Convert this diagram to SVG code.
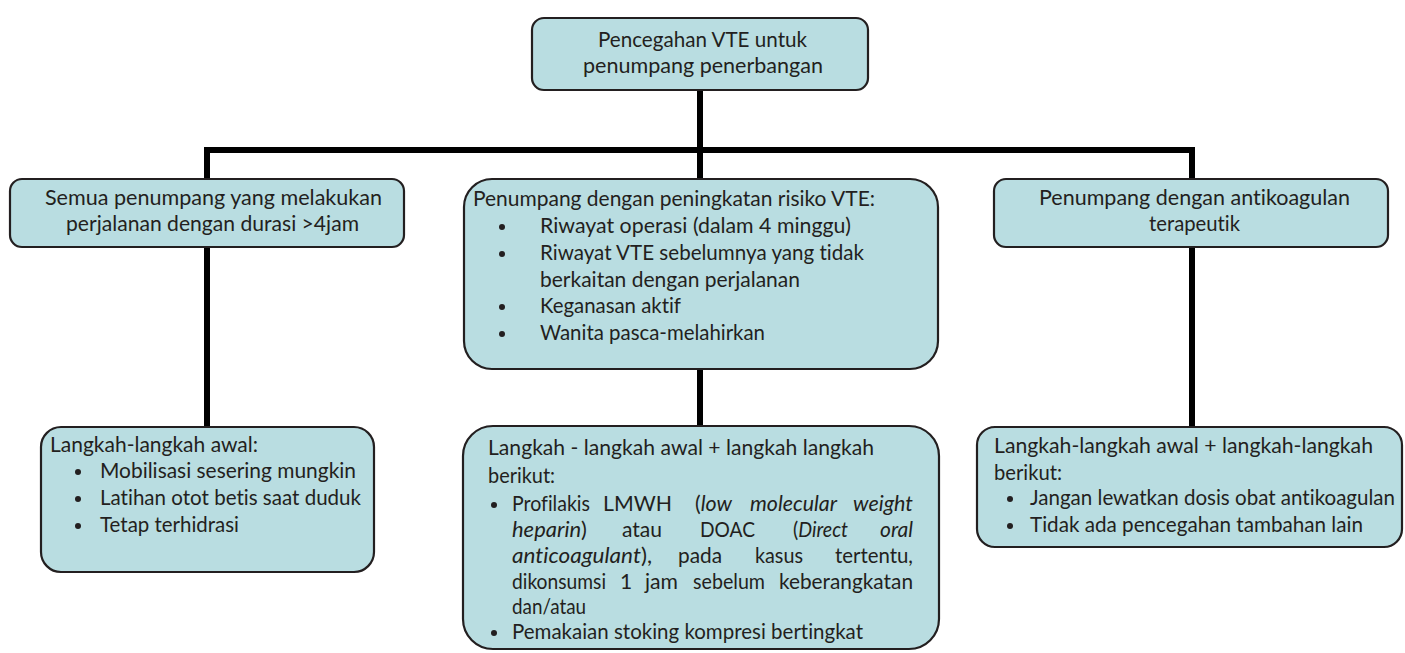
<svg xmlns="http://www.w3.org/2000/svg" width="1405" height="653" viewBox="0 0 1405 653">
<style>
.box{fill:#b9dde1;stroke:#231f20;stroke-width:2.2}
.t{font-family:Lato,"Open Sans","Liberation Sans",sans-serif;font-size:21px;fill:#231f20;font-variant-ligatures:none}
.i{font-style:italic}
.b{fill:#231f20}
.conn{fill:none;stroke:#000;stroke-width:6;stroke-linejoin:miter;stroke-linecap:butt}
</style>
<rect width="1405" height="653" fill="#ffffff"/>
<g id="connectors">
<path class="conn" d="M700 90 V179 M700 369 V426 M207 426 V150 H1192 V426"/>
</g>
<g id="root">
<rect class="box" x="532" y="18" width="336" height="72" rx="12"/>
<text class="t" x="598" y="47" textLength="209" lengthAdjust="spacingAndGlyphs">Pencegahan VTE untuk</text>
<text class="t" x="583" y="73" textLength="240" lengthAdjust="spacingAndGlyphs">penumpang penerbangan</text>
</g>
<g id="all-passengers">
<rect class="box" x="10" y="179" width="394" height="68" rx="12"/>
<text class="t" x="45" y="205" textLength="337" lengthAdjust="spacingAndGlyphs">Semua penumpang yang melakukan</text>
<text class="t" x="66" y="231" textLength="293" lengthAdjust="spacingAndGlyphs">perjalanan dengan durasi &gt;4jam</text>
</g>
<g id="increased-risk">
<rect class="box" x="464" y="179" width="474" height="190" rx="28"/>
<text class="t" x="473" y="206" textLength="402" lengthAdjust="spacingAndGlyphs">Penumpang dengan peningkatan risiko VTE:</text>
<circle class="b" cx="502" cy="227" r="3"/>
<circle class="b" cx="502" cy="254" r="3"/>
<circle class="b" cx="502" cy="307" r="3"/>
<circle class="b" cx="502" cy="334" r="3"/>
<text class="t" x="540" y="233" textLength="311" lengthAdjust="spacingAndGlyphs">Riwayat operasi (dalam 4 minggu)</text>
<text class="t" x="540" y="260" textLength="324" lengthAdjust="spacingAndGlyphs">Riwayat VTE sebelumnya yang tidak</text>
<text class="t" x="540" y="287" textLength="260" lengthAdjust="spacingAndGlyphs">berkaitan dengan perjalanan</text>
<text class="t" x="540" y="313" textLength="141" lengthAdjust="spacingAndGlyphs">Keganasan aktif</text>
<text class="t" x="540" y="340" textLength="225" lengthAdjust="spacingAndGlyphs">Wanita pasca-melahirkan</text>
</g>
<g id="anticoagulant">
<rect class="box" x="994" y="179" width="394" height="68" rx="12"/>
<text class="t" x="1039" y="205" textLength="311" lengthAdjust="spacingAndGlyphs">Penumpang dengan antikoagulan</text>
<text class="t" x="1149" y="231" textLength="91" lengthAdjust="spacingAndGlyphs">terapeutik</text>
</g>
<g id="initial-steps">
<rect class="box" x="41" y="427" width="333" height="145" rx="20"/>
<text class="t" x="50" y="452" textLength="208" lengthAdjust="spacingAndGlyphs">Langkah-langkah awal:</text>
<circle class="b" cx="78" cy="472" r="3"/>
<circle class="b" cx="78" cy="499" r="3"/>
<circle class="b" cx="78" cy="526" r="3"/>
<text class="t" x="100" y="478" textLength="256" lengthAdjust="spacingAndGlyphs">Mobilisasi sesering mungkin</text>
<text class="t" x="100" y="505" textLength="261" lengthAdjust="spacingAndGlyphs">Latihan otot betis saat duduk</text>
<text class="t" x="100" y="532" textLength="139" lengthAdjust="spacingAndGlyphs">Tetap terhidrasi</text>
</g>
<g id="risk-steps">
<rect class="box" x="463" y="426" width="476" height="223" rx="30"/>
<text class="t" x="488" y="455" textLength="386" lengthAdjust="spacingAndGlyphs">Langkah - langkah awal + langkah langkah</text>
<text class="t" x="488" y="483" textLength="67" lengthAdjust="spacingAndGlyphs">berikut:</text>
<circle class="b" cx="494" cy="505" r="3"/>
<circle class="b" cx="494" cy="633" r="3"/>
<text class="t" x="512" y="511" textLength="78" lengthAdjust="spacingAndGlyphs">Profilakis</text>
<text class="t" x="603" y="511" textLength="69" lengthAdjust="spacingAndGlyphs">LMWH</text>
<text class="t" x="695" y="511" textLength="37" lengthAdjust="spacingAndGlyphs">(<tspan class="i">low</tspan></text>
<text class="t i" x="750" y="511" textLength="87" lengthAdjust="spacingAndGlyphs">molecular</text>
<text class="t i" x="853" y="511" textLength="60" lengthAdjust="spacingAndGlyphs">weight</text>
<text class="t" x="512" y="537" textLength="75" lengthAdjust="spacingAndGlyphs"><tspan class="i">heparin</tspan>)</text>
<text class="t" x="622" y="537" textLength="40" lengthAdjust="spacingAndGlyphs">atau</text>
<text class="t" x="700" y="537" textLength="55" lengthAdjust="spacingAndGlyphs">DOAC</text>
<text class="t" x="793" y="537" textLength="55" lengthAdjust="spacingAndGlyphs">(<tspan class="i">Direct</tspan></text>
<text class="t i" x="880" y="537" textLength="33" lengthAdjust="spacingAndGlyphs">oral</text>
<text class="t" x="512" y="563" textLength="140" lengthAdjust="spacingAndGlyphs"><tspan class="i">anticoagulant</tspan>),</text>
<text class="t" x="678" y="563" textLength="44" lengthAdjust="spacingAndGlyphs">pada</text>
<text class="t" x="755" y="563" textLength="48" lengthAdjust="spacingAndGlyphs">kasus</text>
<text class="t" x="835" y="563" textLength="78" lengthAdjust="spacingAndGlyphs">tertentu,</text>
<text class="t" x="512" y="589" textLength="94" lengthAdjust="spacingAndGlyphs">dikonsumsi</text>
<text class="t" x="620" y="589">1</text>
<text class="t" x="645" y="589" textLength="33" lengthAdjust="spacingAndGlyphs">jam</text>
<text class="t" x="693" y="589" textLength="72" lengthAdjust="spacingAndGlyphs">sebelum</text>
<text class="t" x="779" y="589" textLength="134" lengthAdjust="spacingAndGlyphs">keberangkatan</text>
<text class="t" x="512" y="614" textLength="74" lengthAdjust="spacingAndGlyphs">dan/atau</text>
<text class="t" x="512" y="639" textLength="351" lengthAdjust="spacingAndGlyphs">Pemakaian stoking kompresi bertingkat</text>
</g>
<g id="anticoagulant-steps">
<rect class="box" x="977" y="427" width="425" height="120" rx="18"/>
<text class="t" x="994" y="453" textLength="379" lengthAdjust="spacingAndGlyphs">Langkah-langkah awal + langkah-langkah</text>
<text class="t" x="994" y="480" textLength="68" lengthAdjust="spacingAndGlyphs">berikut:</text>
<circle class="b" cx="1010" cy="499" r="3"/>
<circle class="b" cx="1010" cy="526" r="3"/>
<text class="t" x="1030" y="505" textLength="365" lengthAdjust="spacingAndGlyphs">Jangan lewatkan dosis obat antikoagulan</text>
<text class="t" x="1030" y="532" textLength="333" lengthAdjust="spacingAndGlyphs">Tidak ada pencegahan tambahan lain</text>
</g>
</svg>
